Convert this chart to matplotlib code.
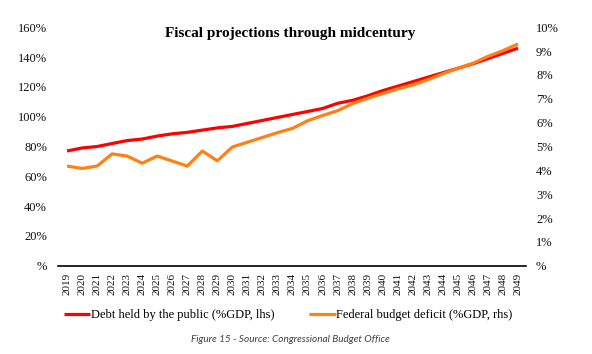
import matplotlib
matplotlib.use("Agg")
import matplotlib.pyplot as plt
from matplotlib.ticker import FuncFormatter

# Data
years = list(range(2019, 2050))
debt = [77, 79, 80, 82, 84, 85, 87, 88.5, 89.5, 91, 92.5, 93.5, 95.5, 97.5, 99.5,
        101.5, 103.5, 105.5, 109, 111, 114, 117.5, 120.5, 123.5, 126.5, 129.5,
        132.5, 135.5, 139, 142.5, 146]
deficit = [4.18, 4.08, 4.18, 4.69, 4.60, 4.30, 4.60, 4.39, 4.18, 4.81, 4.40,
           4.98, 5.18, 5.38, 5.58, 5.76, 6.08, 6.30, 6.50, 6.80, 7.02, 7.22,
           7.42, 7.58, 7.80, 8.05, 8.28, 8.49, 8.78, 9.02, 9.30]
left_ticks = [0, 20, 40, 60, 80, 100, 120, 140, 160]
right_ticks = [0, 1, 2, 3, 4, 5, 6, 7, 8, 9, 10]

plt.rcParams['font.family'] = ['Liberation Serif', 'DejaVu Serif']

fig = plt.figure(figsize=(5.92, 3.54), dpi=100)
ax = fig.add_axes([0.098, 0.2494, 0.791, 0.6735])
ax2 = ax.twinx()

red = '#FF0000'
orange = '#FF8015'

l1, = ax.plot(years, debt, color=red, lw=2.3, solid_capstyle='butt',
              label='Debt held by the public (%GDP, lhs)')
l2, = ax2.plot(years, deficit, color=orange, lw=2.3, solid_capstyle='butt',
               label='Federal budget deficit (%GDP, rhs)')


def pct(v, pos):
    # Excel style "###%" format: zero shows as a bare "%"
    return '%' if v == 0 else f'{int(v)}%'


ax.set_ylim(0, 160)
ax.set_yticks(left_ticks)
ax.yaxis.set_major_formatter(FuncFormatter(pct))
ax2.set_ylim(0, 10)
ax2.set_yticks(right_ticks)
ax2.yaxis.set_major_formatter(FuncFormatter(pct))

ax.set_xlim(2018.4, 2049.55)
ax.set_xticks(years)
ax.set_xticklabels([str(y) for y in years], rotation=90, fontsize=8)

for a in (ax, ax2):
    for s in a.spines.values():
        s.set_visible(False)
    a.tick_params(length=0, labelsize=9, colors='#111111')
ax.spines['bottom'].set_visible(True)
ax.spines['bottom'].set_color('black')
ax.spines['bottom'].set_linewidth(1.2)
ax.tick_params(axis='y', pad=8)
ax2.tick_params(axis='y', pad=7)
ax.tick_params(axis='x', pad=5, labelsize=8)

fig.text(0.49, 0.905, 'Fiscal projections through midcentury', ha='center',
         va='center', fontsize=11, fontweight='bold')

fig.legend(handles=[l1, l2], loc='center', bbox_to_anchor=(0.487, 0.11),
           ncol=2, frameon=False, fontsize=9, handlelength=2.1,
           handletextpad=0.05, columnspacing=2.8)

fig.text(0.49, 0.042, 'Figure 15 - Source: Congressional Budget Office',
         ha='center', va='center', fontsize=7.2, style='italic',
         color='#404040', family=['Lato', 'DejaVu Sans'])

fig.savefig('out.png', dpi=100)
